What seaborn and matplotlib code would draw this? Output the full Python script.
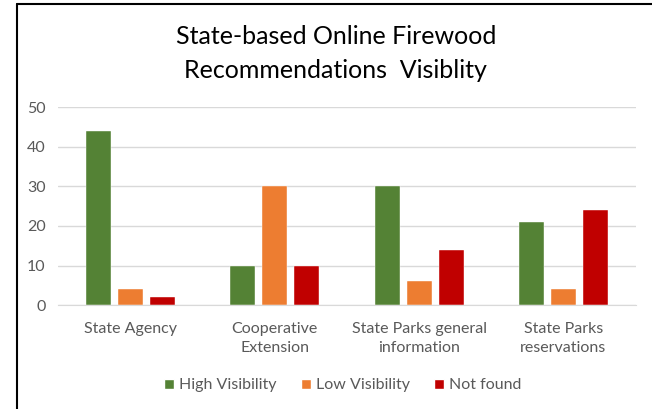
import pandas as pd
import matplotlib
matplotlib.use('Agg')
import matplotlib.pyplot as plt
from matplotlib.lines import Line2D
import seaborn as sns

# Dữ liệu
categories = ['State Agency', 'Cooperative\nExtension', 'State Parks general\ninformation', 'State Parks\nreservations']
series = ['High Visibility', 'Low Visibility', 'Not found']
high_vis = [44, 10, 30, 21]
low_vis = [4, 30, 6, 4]
not_found = [2, 10, 14, 24]
yticks = [0, 10, 20, 30, 40, 50]

colors = ['#548235', '#ED7D31', '#C00000']

df = pd.DataFrame({
    'category': categories * 3,
    'series': [series[0]] * 4 + [series[1]] * 4 + [series[2]] * 4,
    'value': high_vis + low_vis + not_found,
})

sns.set_style('white')
plt.rcParams['font.family'] = ['Lato', 'DejaVu Sans']

fig = plt.figure(figsize=(6.52, 4.09), dpi=100)
ax = fig.add_axes([0.089, 0.254, 0.886, 0.484])

sns.barplot(data=df, x='category', y='value', hue='series', palette=colors,
            width=0.665, gap=0.22, ax=ax, legend=False, saturation=1,
            edgecolor='white', linewidth=0.3)

ax.set_ylim(0, 50)
ax.set_yticks(yticks)
ax.set_xlim(-0.5, 3.5)
ax.yaxis.grid(True, color='#D9D9D9', linewidth=1)
ax.set_axisbelow(True)
for s in ['top', 'right', 'left']:
    ax.spines[s].set_visible(False)
ax.spines['bottom'].set_color('#D9D9D9')
ax.tick_params(axis='both', length=0, colors='#595959', labelsize=11.5)
ax.tick_params(axis='y', pad=9)
ax.tick_params(axis='x', pad=12)
for lbl in ax.get_xticklabels():
    lbl.set_linespacing(1.45)
ax.set_xlabel('')
ax.set_ylabel('')

fig.text(0.515, 0.91, 'State-based Online Firewood', ha='center', va='center', fontsize=18, color='#000000')
fig.text(0.515, 0.828, 'Recommendations  Visiblity', ha='center', va='center', fontsize=18, color='#000000')

handles = [Line2D([0], [0], marker='s', color='w', markerfacecolor=c, markersize=7, linestyle='')
           for c in colors]
fig.legend(handles, series, loc='center', bbox_to_anchor=(0.522, 0.058), ncol=3, frameon=False,
           fontsize=11.5, labelcolor='#595959', handletextpad=0.05, handlelength=1.2,
           columnspacing=1.2)

# khung viền trái và trên
fig.add_artist(Line2D([0.026, 0.026], [0, 0.989], color='black', linewidth=1.5, transform=fig.transFigure))
fig.add_artist(Line2D([0.026, 1.0], [0.989, 0.989], color='black', linewidth=1.5, transform=fig.transFigure))

fig.savefig('out.png', dpi=100)
